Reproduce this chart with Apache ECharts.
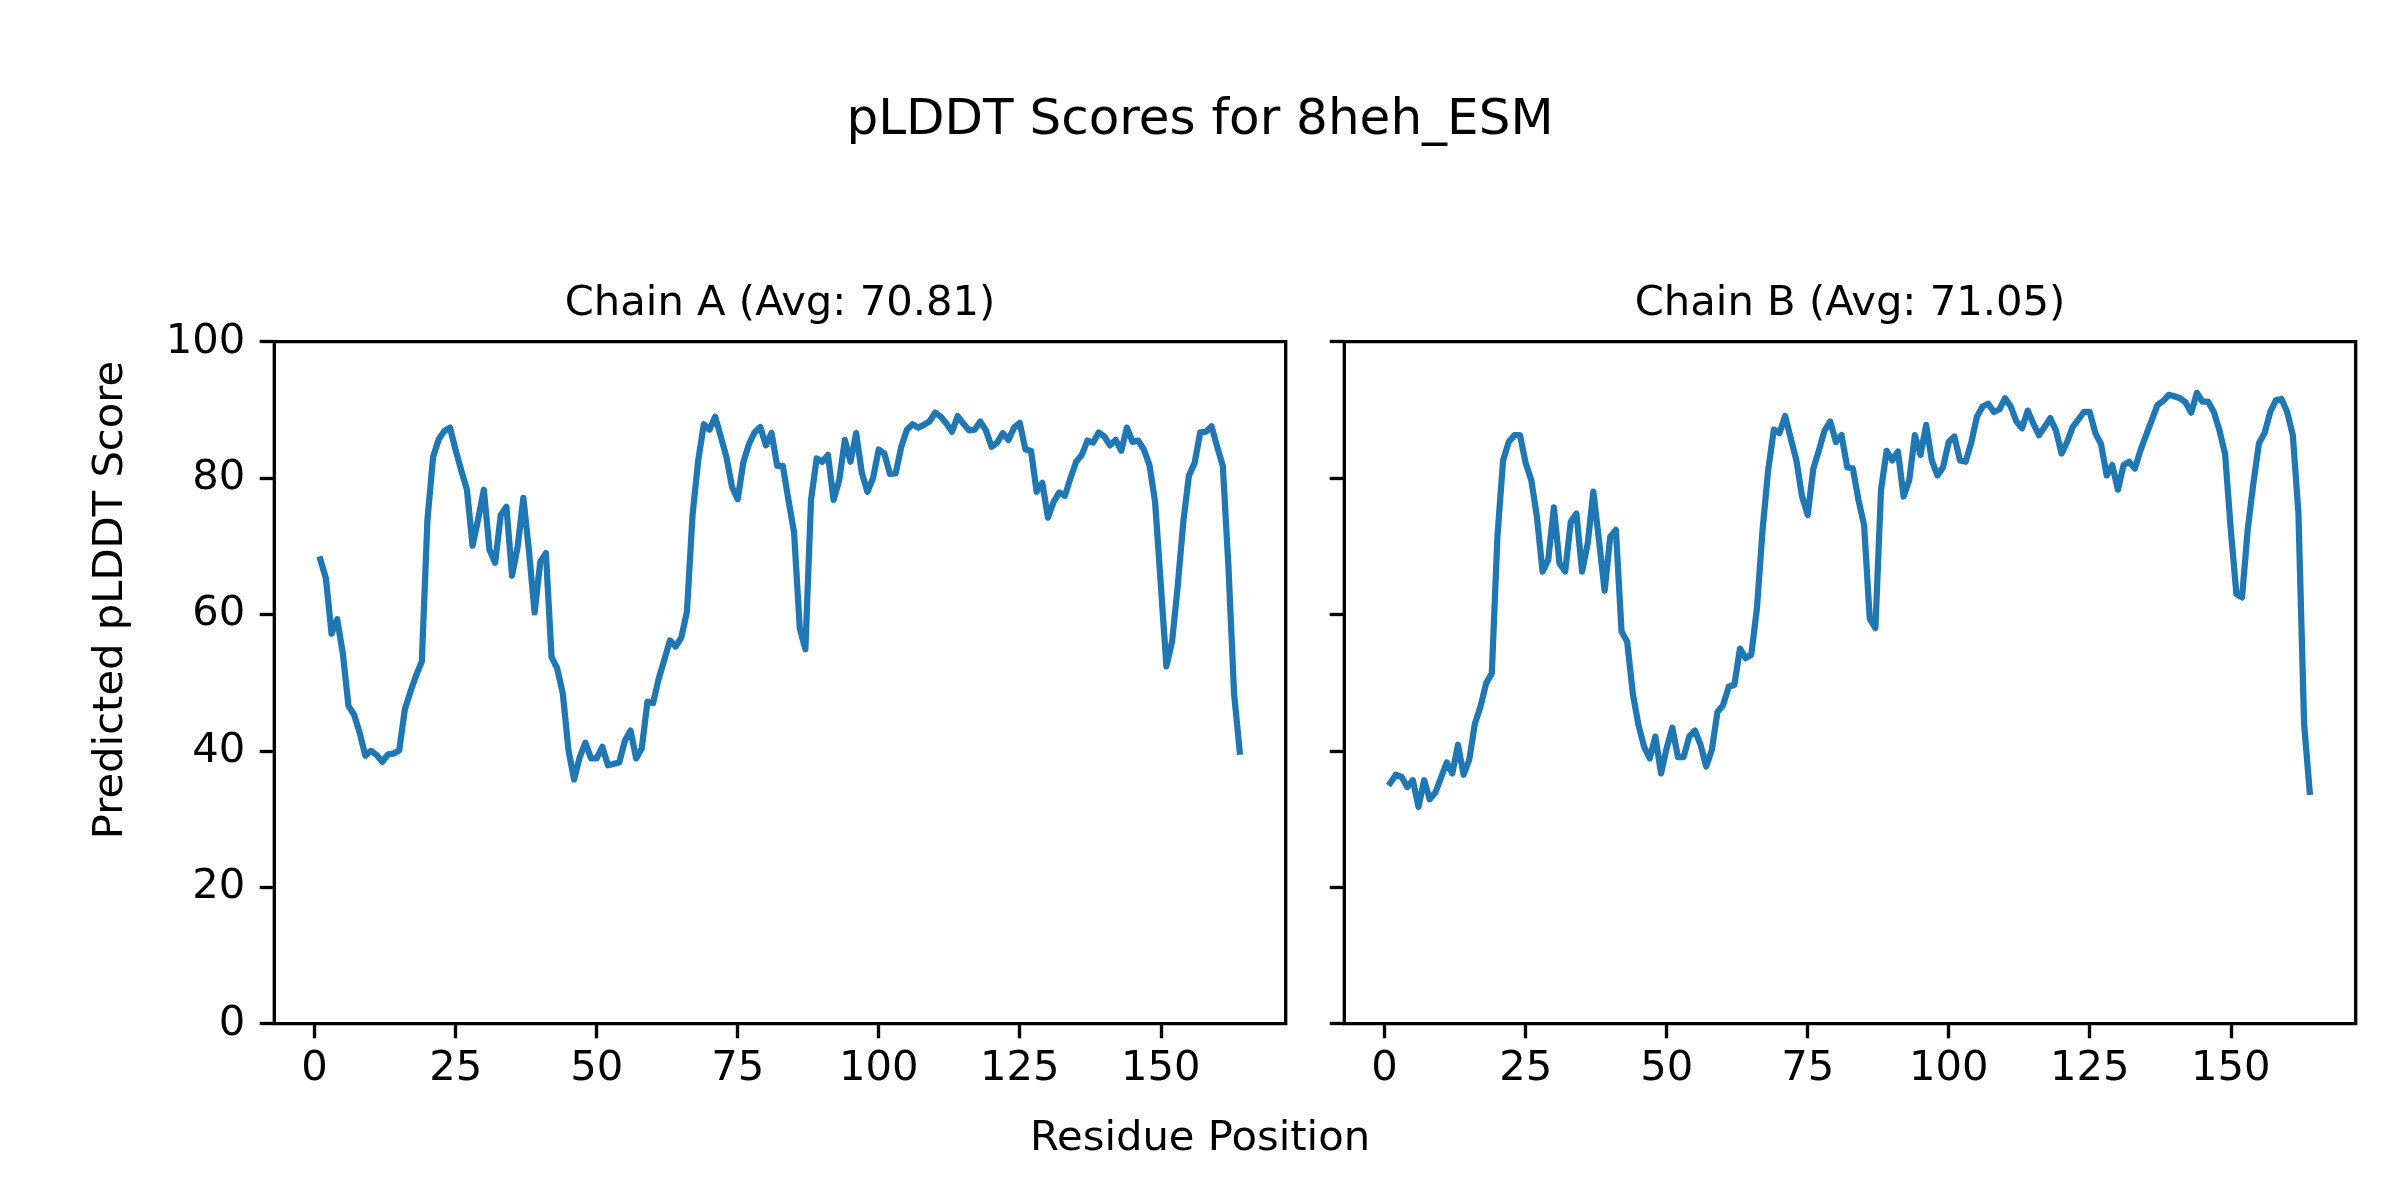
<!DOCTYPE html>
<html>
<head>
<meta charset="utf-8">
<script src="https://cdn.jsdelivr.net/npm/echarts@6/dist/echarts.min.js"></script>
<style>
  html, body { margin: 0; padding: 0; background: #fff; }
  #chart { width: 2400px; height: 1200px; }
</style>
</head>
<body>
<div id="chart"></div>
<script>
// ---- Data ----
const chainAValues = [
  68.1, 65.3, 57.2, 59.3, 54.3, 46.6, 45.3, 42.6, 39.3, 40.0,
  39.4, 38.4, 39.5, 39.6, 40.1, 46.1, 48.7, 51.1, 53.1, 73.9,
  83.1, 85.7, 86.9, 87.4, 84.1, 81.1, 78.3, 70.1, 74.0, 78.3,
  69.5, 67.6, 74.6, 75.8, 65.7, 70.0, 77.1, 69.3, 60.3, 67.7,
  69.0, 53.8, 52.1, 48.4, 40.1, 35.8, 39.1, 41.2, 38.9, 38.9,
  40.6, 37.9, 38.1, 38.3, 41.5, 43.0, 38.9, 40.4, 47.2, 47.0,
  50.6, 53.4, 56.2, 55.3, 56.6, 60.4, 74.6, 82.6, 87.9, 87.1,
  89.0, 86.1, 83.1, 78.7, 76.9, 82.3, 85.0, 86.7, 87.5, 84.8,
  86.6, 81.8, 81.8, 76.8, 72.0, 58.0, 54.9, 76.8, 82.9, 82.4,
  83.4, 76.8, 79.7, 85.6, 82.4, 86.6, 80.8, 78.0, 80.0, 84.2,
  83.6, 80.6, 80.7, 84.6, 87.1, 87.9, 87.4, 87.8, 88.3, 89.6,
  89.0, 88.0, 86.8, 89.1, 88.0, 87.0, 87.1, 88.3, 87.0, 84.6,
  85.2, 86.6, 85.6, 87.4, 88.1, 84.2, 84.0, 78.0, 79.3, 74.2,
  76.5, 77.9, 77.4, 80.0, 82.4, 83.4, 85.5, 85.2, 86.7, 86.1,
  84.8, 85.6, 84.0, 87.4, 85.3, 85.5, 84.2, 81.9, 76.5, 64.5,
  52.4, 56.0, 64.1, 73.6, 80.4, 82.2, 86.7, 86.8, 87.6, 84.6,
  81.8, 67.0, 48.4, 39.9
];
const chainBValues = [
  35.3, 36.5, 36.2, 34.7, 35.7, 31.8, 35.7, 32.9, 33.9, 36.1,
  38.3, 36.7, 40.9, 36.5, 38.7, 44.0, 46.5, 49.9, 51.4, 71.5,
  82.6, 85.3, 86.3, 86.3, 82.2, 79.7, 74.3, 66.3, 68.0, 75.7,
  67.5, 66.3, 73.6, 74.8, 66.3, 70.4, 78.0, 70.9, 63.5, 71.4,
  72.4, 57.5, 56.0, 48.4, 43.8, 40.6, 38.9, 42.1, 36.7, 40.4,
  43.4, 39.1, 39.1, 42.1, 43.0, 40.9, 37.7, 40.1, 45.7, 46.7,
  49.4, 49.7, 55.0, 53.6, 54.1, 60.9, 72.4, 81.2, 87.1, 86.6,
  89.1, 85.8, 82.6, 77.3, 74.6, 81.4, 84.1, 87.0, 88.3, 85.3,
  86.3, 81.6, 81.4, 76.8, 73.1, 59.4, 58.0, 78.3, 84.0, 82.6,
  83.9, 77.3, 79.7, 86.3, 83.4, 87.8, 82.6, 80.4, 81.6, 85.3,
  86.1, 82.6, 82.4, 85.2, 89.0, 90.5, 90.9, 89.7, 90.1, 91.7,
  90.5, 88.3, 87.3, 89.9, 88.0, 86.3, 87.5, 88.8, 87.0, 83.6,
  85.3, 87.5, 88.6, 89.7, 89.7, 86.6, 85.0, 80.4, 81.9, 78.3,
  81.9, 82.4, 81.4, 84.1, 86.3, 88.5, 90.7, 91.3, 92.2, 92.0,
  91.7, 91.1, 89.6, 92.5, 91.2, 91.2, 89.7, 87.0, 83.5, 72.5,
  63.0, 62.5, 72.4, 79.2, 85.1, 86.6, 89.7, 91.4, 91.6, 89.7,
  86.3, 74.8, 44.0, 34.0
];
const xTicks = [0, 25, 50, 75, 100, 125, 150];
const yTicks = [0, 20, 40, 60, 80, 100];
const chainTitles = ['Chain A (Avg: 70.81)', 'Chain B (Avg: 71.05)'];
const mainTitle = 'pLDDT Scores for 8heh_ESM';
const xLabel = 'Residue Position';
const yLabel = 'Predicted pLDDT Score';

// residue positions start at 1
const residuesA = chainAValues.map((_, i) => i + 1);
const residuesB = chainBValues.map((_, i) => i + 1);

// ---- Styling / layout ----
const FONT = 'DejaVu Sans';
const TICK_FS = 41.7;
const SPINE_W = 3.33;
const LINE_COLOR = '#1f77b4';
const gridTop = 341.7, gridH = 682, gridW = 1011.4;
const gridLefts = [274.3, 1344.3];
const xMin = -7.15, xMax = 172.15;

const chart = echarts.init(document.getElementById('chart'), null, { renderer: 'canvas' });

function xAxisFor(idx) {
  return {
    type: 'value', gridIndex: idx, min: xMin, max: xMax, position: 'bottom',
    axisLine: { show: false, onZero: false },
    splitLine: { show: false },
    axisTick: { show: true, inside: false, length: 14.6, customValues: xTicks,
      lineStyle: { color: '#000', width: SPINE_W } },
    axisLabel: { show: true, margin: 24, customValues: xTicks, color: '#000',
      fontSize: TICK_FS, fontFamily: FONT }
  };
}
function yAxisFor(idx, showLabels) {
  return {
    type: 'value', gridIndex: idx, min: 0, max: 100, interval: 20, position: 'left',
    axisLine: { show: false, onZero: false },
    splitLine: { show: false },
    axisTick: { show: true, inside: false, length: 14.6, customValues: yTicks,
      lineStyle: { color: '#000', width: SPINE_W } },
    axisLabel: { show: showLabels, margin: 29, customValues: yTicks, color: '#000',
      fontSize: TICK_FS, fontFamily: FONT }
  };
}

const option = {
  animation: false,
  backgroundColor: '#ffffff',
  title: [
    { text: mainTitle, left: 1200, top: 121, textAlign: 'center', textVerticalAlign: 'middle', padding: 0,
      textStyle: { fontSize: 50, fontWeight: 'normal', fontFamily: FONT, color: '#000' } },
    { text: chainTitles[0], left: gridLefts[0] + gridW / 2, top: 304, textAlign: 'center', textVerticalAlign: 'middle', padding: 0,
      textStyle: { fontSize: TICK_FS, fontWeight: 'normal', fontFamily: FONT, color: '#000' } },
    { text: chainTitles[1], left: gridLefts[1] + gridW / 2, top: 304, textAlign: 'center', textVerticalAlign: 'middle', padding: 0,
      textStyle: { fontSize: TICK_FS, fontWeight: 'normal', fontFamily: FONT, color: '#000' } },
    { text: xLabel, left: 1200, top: 1139, textAlign: 'center', textVerticalAlign: 'middle', padding: 0,
      textStyle: { fontSize: TICK_FS, fontWeight: 'normal', fontFamily: FONT, color: '#000' } }
  ],
  graphic: [
    { type: 'text', x: 111, y: 600, rotation: Math.PI / 2,
      style: { text: yLabel, fontSize: TICK_FS, fontFamily: FONT, fill: '#000',
        align: 'center', verticalAlign: 'middle' } }
  ],
  grid: gridLefts.map(l => ({
    left: l, top: gridTop, width: gridW, height: gridH,
    show: true, borderColor: '#000', borderWidth: SPINE_W, backgroundColor: 'transparent',
    containLabel: false
  })),
  xAxis: [xAxisFor(0), xAxisFor(1)],
  yAxis: [yAxisFor(0, true), yAxisFor(1, false)],
  series: [
    { type: 'line', xAxisIndex: 0, yAxisIndex: 0, showSymbol: false, symbol: 'none',
      data: residuesA.map((r, i) => [r, chainAValues[i]]),
      lineStyle: { color: LINE_COLOR, width: 6.25, join: 'round', cap: 'square' } },
    { type: 'line', xAxisIndex: 1, yAxisIndex: 1, showSymbol: false, symbol: 'none',
      data: residuesB.map((r, i) => [r, chainBValues[i]]),
      lineStyle: { color: LINE_COLOR, width: 6.25, join: 'round', cap: 'square' } }
  ]
};
chart.setOption(option);
</script>
</body>
</html>
